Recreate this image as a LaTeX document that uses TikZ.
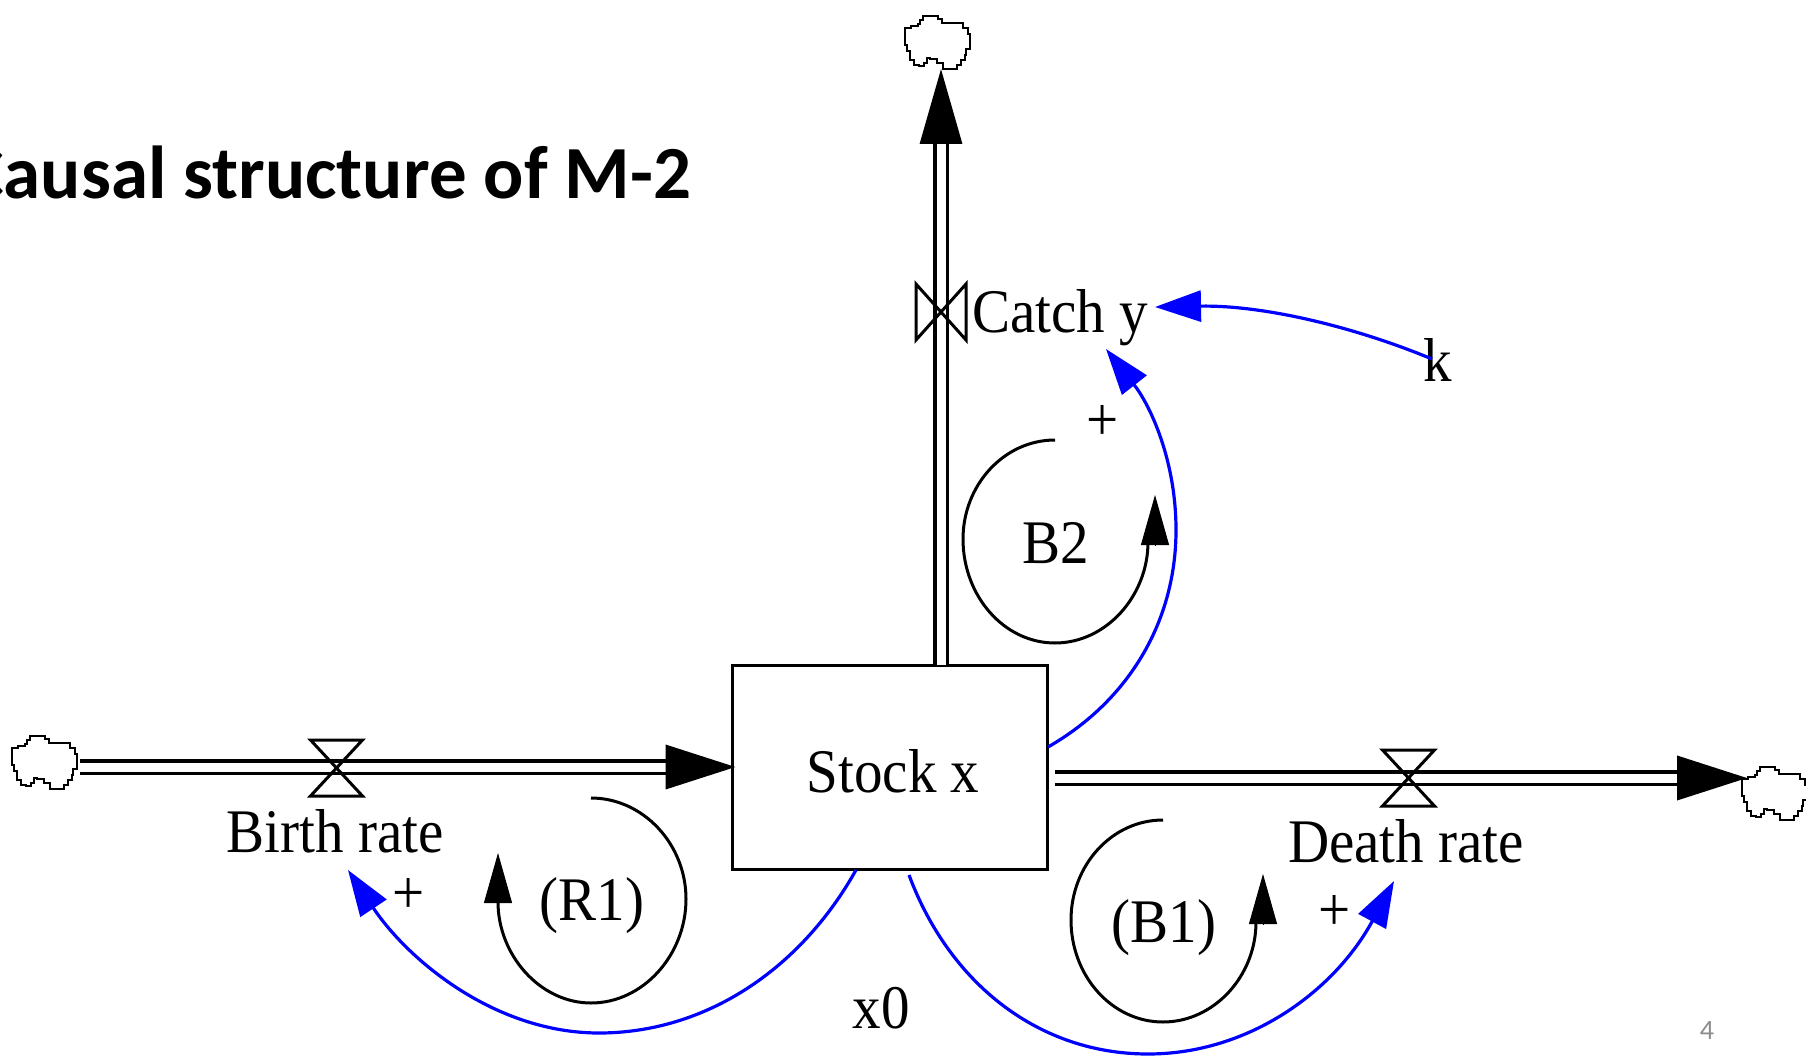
\documentclass[tikz,border=0pt]{standalone}
\usepackage{fontspec}
\setmainfont{Liberation Serif}
\newfontfamily\carl{Carlito}
\newfontfamily\tallserif[FakeStretch=0.92]{Liberation Serif}
\usetikzlibrary{arrows.meta,calc}
\definecolor{flowblue}{RGB}{0,0,255}
\tikzset{
  lbl/.style={inner sep=0pt,font=\tallserif\fontsize{62}{64}\selectfont},
  stockbox/.style={draw,line width=3pt,minimum width=315pt,minimum height=204pt,inner sep=0pt},
  flowplain/.style={double,double distance=9pt,line width=3.8pt},
  flowline/.style={flowplain,-{Triangle[length=70pt,width=44pt,sep=0pt]}},
  flowtop/.style={flowplain,line width=3.2pt,-{Triangle[length=75pt,width=42pt,sep=0pt]}},
  valveline/.style={line width=3pt,line join=miter},
  cloudline/.style={line width=2.5pt,line join=miter},
  linkblue/.style={draw=flowblue,line width=3.2pt,-{Triangle[length=46pt,width=31pt,color=flowblue]}},
  loopbody/.style={draw=black,line width=3pt},
  loophead/.style={draw=black,line width=1pt,-{Triangle[length=50pt,width=28pt]}},
  pagenum/.style={inner sep=0pt,text=black!45,font=\carl\fontsize{28}{30}\selectfont},
  titletext/.style={inner sep=0pt,anchor=west,font=\carl\bfseries\fontsize{75}{78}\selectfont}
}
\newcommand{\cloudat}[1]{%
  \draw[cloudline,shift={(#1)}] (0,13) -| (6,11) -| (13,9) -| (15,5) -| (18,1) -| (31,1) -| (33,4) -| (37,8) -| (54,8) -| (58,13) -| (63,19) -| (65,26) -| (65,34) -| (61,40) -| (60,45) -| (56,50) -| (52,54) -| (43,54) -| (38,48) -| (32,44) -| (25,43) -| (22,48) -| (19,51) -| (14,50) -| (9,45) -| (5,36) -| (2,30) -| (0,22) -- cycle;}
\begin{document}
\begin{tikzpicture}[x=1pt,y=-1pt]
\useasboundingbox (0,0) rectangle (1806,1056);
\fill[white] (0,0) rectangle (1806,1056);
\node[titletext] (title) at (-36,172) {Causal structure of M-2};
\node[stockbox] (stock) at (889.5,767) {};
\node[lbl] (stocktext) at (893,771) {Stock x};
\node[lbl] (catch) at (1060,318) {Catch y};
\node[lbl] (birth) at (335,831) {Birth rate};
\node[lbl] (death) at (1406,841) {Death rate};
\node[lbl] (k) at (1438,360) {k};
\node[lbl] (xzero) at (881,1008) {x0};
\node[lbl] (rone) at (592,906) {(R1)};
\node[lbl] (bone) at (1164,928) {(B1)};
\node[lbl] (btwo) at (1056,543) {B2};
\node[lbl] (p1) at (1103,423) {+};
\node[lbl] (p2) at (409,896) {+};
\node[lbl] (p3) at (1335,913) {+};
\node[pagenum] (pg) at (1707,1031) {4};
% clouds
\cloudat{905,15}
\cloudat{12,735}
\cloudat{1742,766}
\coordinate (cTop) at (941,69);
\coordinate (cLeft) at (80,767);
\coordinate (cRight) at (1747,778);
\coordinate (sTop) at (941,665);
\coordinate (sRight) at (1055,778);
% flows
\draw[flowtop] (sTop) -- (cTop);
\draw[flowline] (cLeft) -- ($(stock.west |- cLeft)+(5,0)$);
\draw[flowline] (sRight) -- (cRight);
% valves
\coordinate (vB) at (336.5,768);
\coordinate (vD) at (1408.5,778);
\coordinate (vC) at (941,312);
\draw[valveline] ($(vB)+(-26,-28)$) -- ($(vB)+(26,-28)$) -- ($(vB)+(-26,28)$) -- ($(vB)+(26,28)$) -- cycle;
\draw[valveline] ($(vD)+(-26,-28)$) -- ($(vD)+(26,-28)$) -- ($(vD)+(-26,28)$) -- ($(vD)+(26,28)$) -- cycle;
\draw[valveline] ($(vC)+(-25,-28)$) -- ($(vC)+(-25,28)$) -- ($(vC)+(25,-28)$) -- ($(vC)+(25,28)$) -- cycle;
% blue links
\coordinate (s1) at (1048,747);
\coordinate (t1) at (1106,349);
\coordinate (kS) at (1432,359);
\coordinate (t2) at (1155,307);
\coordinate (s3) at (856,870);
\coordinate (t3) at (348,870);
\coordinate (s4) at (909,875);
\coordinate (t4) at (1394,881);
\draw[linkblue] (s1) .. controls (1130,700) and (1176,620) .. (1176,530) .. controls (1176,460) and (1150,405) .. (t1);
\draw[linkblue] (kS) .. controls (1350,325) and (1260,305) .. (t2);
\draw[linkblue] (s3) .. controls (800,970) and (705,1033) .. (599,1033) .. controls (495,1033) and (408,960) .. (t3);
\draw[linkblue] (s4) .. controls (950,985) and (1040,1054) .. (1148,1054) .. controls (1250,1054) and (1335,990) .. (t4);
% loops
\coordinate (r0) at (591,798);
\coordinate (r1) at (498,853);
\coordinate (b0) at (1163,820);
\coordinate (b1) at (1263,874);
\coordinate (c0) at (1055,440);
\coordinate (c1) at (1155,495);
\draw[loopbody] (r0) .. controls (643,798) and (686,844) .. (686,899) .. controls (686,955) and (643,1003) .. (591,1003) .. controls (540,1003) and (498,955) .. (498,902);
\draw[loophead] (498,904) -- (r1);
\draw[loopbody] (b0) .. controls (1112,820) and (1071,865) .. (1071,920) .. controls (1071,976) and (1112,1022) .. (1163,1022) .. controls (1214,1022) and (1256,976) .. (1256,922);
\draw[loophead] (1263,925) -- (b1);
\draw[loopbody] (c0) .. controls (1004,440) and (963,485) .. (963,539) .. controls (963,596) and (1004,643) .. (1055,643) .. controls (1106,643) and (1148,596) .. (1148,542);
\draw[loophead] (1155,545) -- (c1);
\end{tikzpicture}
\end{document}
